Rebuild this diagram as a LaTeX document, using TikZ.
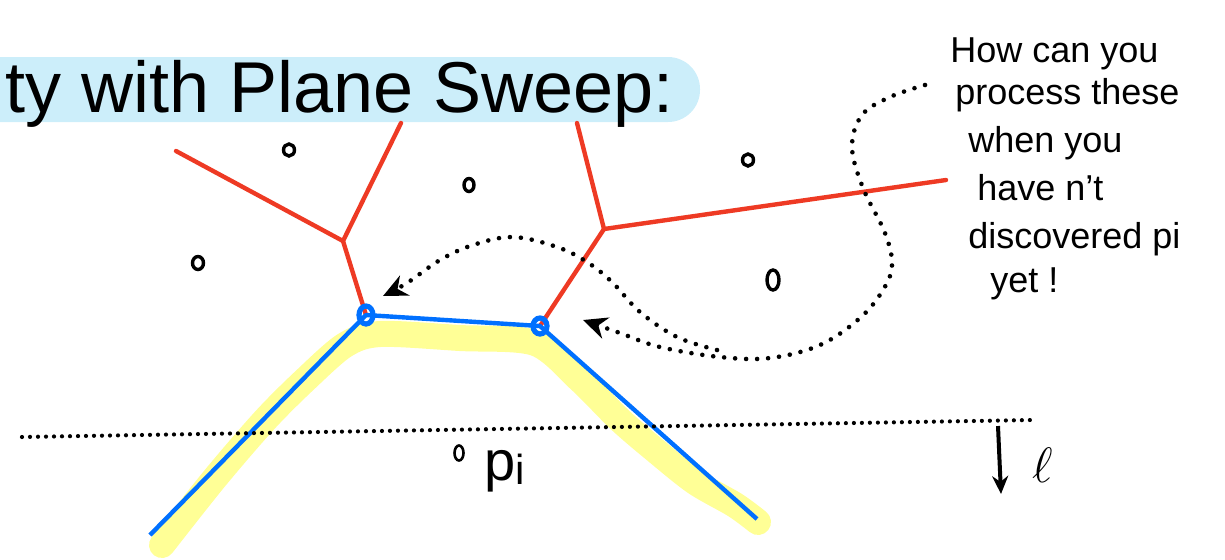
\documentclass[tikz,border=0pt]{standalone}
\usepackage{fontspec}
\setmainfont{Liberation Sans}
\usetikzlibrary{arrows.meta,shapes.geometric}
\definecolor{barblue}{RGB}{204,238,250}
\definecolor{vred}{RGB}{238,58,36}
\definecolor{bblue}{RGB}{0,112,255}
\definecolor{hyellow}{RGB}{255,255,150}
\begin{document}
\begin{tikzpicture}[x=0.5pt,y=-0.5pt,
  site/.style={ellipse,draw=black,line width=1.7pt,inner sep=0pt},
  vedge/.style={draw=vred,line width=2.2pt,line cap=round},
  beach/.style={draw=bblue,line width=2.2pt,line join=round},
  hl/.style={draw=hyellow,line width=13pt,line cap=round,line join=round},
  dots/.style={line width=2.3pt,line cap=round,dash pattern=on 0pt off 5.5pt},
  bvert/.style={ellipse,draw=bblue,line width=2.6pt,inner sep=0pt,minimum width=7pt,minimum height=9pt},
  hand/.style={font=\fontsize{18}{20}\selectfont,anchor=base west,inner sep=0pt},
  tipA/.style={-{Stealth[length=12pt,width=11pt]}}
]
\useasboundingbox (0,0) rectangle (1225,559);
% title bar
\fill[barblue,rounded corners=16pt] (-60,57) rectangle (700,122);
\node[anchor=base west,inner sep=0pt,font=\fontsize{36}{40}\selectfont] (title) at (5,112) {ty with Plane Sweep:};

% yellow highlight of beach line
\draw[hl] plot[smooth,tension=0.5] coordinates {(162,545) (215,478) (265,420) (305,380) (345,345) (380,334) (460,338) (535,343) (580,380) (620,420) (655,450) (695,482) (735,505) (758,522)};

% coordinates
\coordinate (v1) at (343,241);
\coordinate (v2) at (604,229);
\coordinate (e1) at (176,151);
\coordinate (e2) at (401,123);
\coordinate (e3) at (577,123);
\coordinate (e4) at (946,180);
\coordinate (p1) at (366,315);
\coordinate (p2) at (540,326);
\coordinate (bl) at (150,535);
\coordinate (br) at (757,519);

% Voronoi edges
\draw[vedge] (e1) -- (v1) -- (e2);
\draw[vedge] (v1) -- (p1);
\draw[vedge] (e3) -- (v2) -- (e4);
\draw[vedge] (v2) -- (p2);

% beach line
\draw[beach] (bl) -- (p1) -- (p2) -- (br);
\node[bvert] (b1) at (p1) {};
\node[bvert,minimum width=7pt,minimum height=8pt] (b2) at (p2) {};

% sites
\node[site,minimum width=5.5pt,minimum height=6pt] (s1) at (289,150) {};
\node[site,minimum width=5pt,minimum height=6.5pt] (s2) at (469,185) {};
\node[site,minimum width=5.5pt,minimum height=6pt] (s3) at (748,160) {};
\node[site,minimum width=5.5pt,minimum height=6.5pt] (s4) at (198,263) {};
\node[site,minimum width=6pt,minimum height=10pt] (s5) at (773,280) {};
\node[site,minimum width=4.5pt,minimum height=7.5pt,line width=1.3pt] (s6) at (459,453) {};

% sweep line
\coordinate (sl) at (22,437);
\coordinate (sr) at (1032,420);
\draw[dots,dash pattern=on 0pt off 4pt,line width=2.1pt] (sl) -- (sr);

% direction arrow and label
\coordinate (a1) at (998,426);
\coordinate (a2) at (1001,494);
\draw[line width=2pt,-{Stealth[length=9pt,width=8pt]}] (a1) -- (a2);
\node[inner sep=0pt,font=\fontsize{42}{42}\selectfont] (ell) at (1043,465) {$\ell$};

% p_i label
\node[anchor=base west,inner sep=0pt,font=\fontsize{28}{28}\selectfont] (pi) at (484,480) {p\raisebox{-2pt}{\fontsize{21}{21}\selectfont i}};

% annotation
\node[hand] (t1) at (950,62) {How can you};
\node[hand] (t2) at (955,104) {process these};
\node[hand] (t3) at (968,152) {when you};
\node[hand] (t4) at (977,200) {have n't};
\node[hand] (t5) at (968,248) {discovered pi};
\node[hand] (t6) at (990,292) {yet !};

% dotted pointers
\coordinate (c0) at (925,85);
\coordinate (cj) at (717,350);
\coordinate (c2) at (583,320);
\coordinate (c1) at (383,296);
\draw[dots,tipA] plot[smooth,tension=0.6] coordinates {(c0) (890,97) (862,115) (852,147) (863,188) (885,233) (892,265) (883,290) (860,318) (820,345) (770,358) (720,357) (660,347) (620,333) (c2)};
\draw[dots,tipA] plot[smooth,tension=0.6] coordinates {(cj) (677,337) (640,312) (612,282) (587,262) (557,247) (513,237) (473,245) (440,260) (407,283) (c1)};
\end{tikzpicture}
\end{document}
